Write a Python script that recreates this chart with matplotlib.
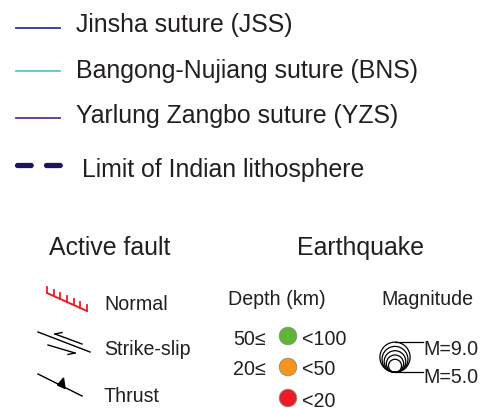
import matplotlib
matplotlib.use('Agg')
import matplotlib.pyplot as plt
from matplotlib.patches import Circle, Polygon

plt.rcParams['font.family'] = ['Liberation Sans', 'DejaVu Sans']

TextCol = '#231f20'

# suture lines
SutureLabels = ['Jinsha suture (JSS)', 'Bangong-Nujiang suture (BNS)', 'Yarlung Zangbo suture (YZS)']
SutureColors = ['#2b3990', '#5ec5cc', '#662d91']
LimitLabel = 'Limit of Indian lithosphere'
LimitColor = '#1b1464'

# faults
FaultLabels = ['Normal', 'Strike-slip', 'Thrust']

# earthquakes
DepthLow = ['50≤', '20≤', '']
DepthHigh = ['<100', '<50', '<20']
DepthColors = ['#5db530', '#f7941d', '#ed1c24']
Magnitudes = [5.0, 6.0, 7.0, 8.0, 9.0]
MagLabels = ['M=9.0', 'M=5.0']

fig = plt.figure(figsize=(4.99, 4.10), dpi=100)
ax = fig.add_axes([0, 0, 1, 1])
ax.set_xlim(0, 499)
ax.set_ylim(410, 0)
ax.axis('off')

BigFont = 17.9
SmallFont = 14.1

# top legend block
LineY = [29, 72, 119]
TextBase = [32, 78, 123]
for I in range(3):
    ax.plot([16, 60], [LineY[I], LineY[I]], color=SutureColors[I], lw=1.3)
    ax.text(76, TextBase[I], SutureLabels[I], fontsize=BigFont, color=TextCol, va='baseline', ha='left')

ax.plot([16.6, 59.6], [166, 166], color=LimitColor, lw=3.8, dashes=(2.6, 2.9),
        solid_capstyle='round', dash_capstyle='round')
ax.text(82, 177, LimitLabel, fontsize=BigFont, color=TextCol, va='baseline', ha='left')

# headings
ax.text(49, 255, 'Active fault', fontsize=BigFont, color=TextCol, va='baseline', ha='left')
ax.text(297, 255, 'Earthquake', fontsize=BigFont, color=TextCol, va='baseline', ha='left')

# normal fault symbol
X0, Y0, X1, Y1 = 47, 294, 87, 312
ax.plot([X0, X1], [Y0, Y1], color='#ed1c24', lw=1.4)
NTicks = 7
for K in range(NTicks):
    T = K / (NTicks - 1)
    Tx = X0 + T * (X1 - X0)
    Ty = Y0 + T * (Y1 - Y0)
    ax.plot([Tx, Tx], [Ty, Ty - 6], color='#ed1c24', lw=1.3)

# strike-slip symbol
ax.plot([38, 90], [333, 353], color='black', lw=1.0)
ax.plot([55, 82], [335, 345], color='black', lw=1.0)
ax.plot([55, 62], [335, 333.5], color='black', lw=1.0)
ax.plot([48, 75], [346, 354], color='black', lw=1.0)
ax.plot([75, 68], [354, 355.5], color='black', lw=1.0)

# thrust symbol
ax.plot([38, 82], [375, 397], color='black', lw=1.0)
ax.add_patch(Polygon([[57.5, 386], [65, 389.5], [63.5, 379]], closed=True, color='black'))

FaultBase = [310, 355, 402]
for I in range(3):
    ax.text(104, FaultBase[I], FaultLabels[I], fontsize=SmallFont, color=TextCol, va='baseline', ha='left')

# depth legend
ax.text(228, 305, 'Depth (km)', fontsize=SmallFont, color=TextCol, va='baseline', ha='left')
DepthY = [337, 368, 399]
DepthBase = [345, 375, 407]
for I in range(3):
    ax.add_patch(Circle((288, DepthY[I]), 8.8, facecolor=DepthColors[I], edgecolor='#8a8a8a', lw=0.6))
    if DepthLow[I]:
        ax.text(233, DepthBase[I], DepthLow[I], fontsize=SmallFont, color=TextCol, va='baseline', ha='left')
    ax.text(302, DepthBase[I], DepthHigh[I], fontsize=SmallFont, color=TextCol, va='baseline', ha='left')

# magnitude legend
ax.text(381, 305, 'Magnitude', fontsize=SmallFont, color=TextCol, va='baseline', ha='left')
Cx, Bottom = 395, 373.3
for M in Magnitudes:
    R = 6.5 + (M - 5.0) * 2.15
    ax.add_patch(Circle((Cx, Bottom - R), R, facecolor='none', edgecolor='black', lw=0.9))
Rmax = 6.5 + (max(Magnitudes) - 5.0) * 2.15
ax.plot([Cx, 423], [Bottom - 2 * Rmax, Bottom - 2 * Rmax], color='black', lw=0.9)
ax.plot([Cx, 423], [Bottom, Bottom], color='black', lw=0.9)
ax.text(423, 355, MagLabels[0], fontsize=SmallFont, color=TextCol, va='baseline', ha='left')
ax.text(423, 383, MagLabels[1], fontsize=SmallFont, color=TextCol, va='baseline', ha='left')

plt.savefig('out.png', dpi=100)
